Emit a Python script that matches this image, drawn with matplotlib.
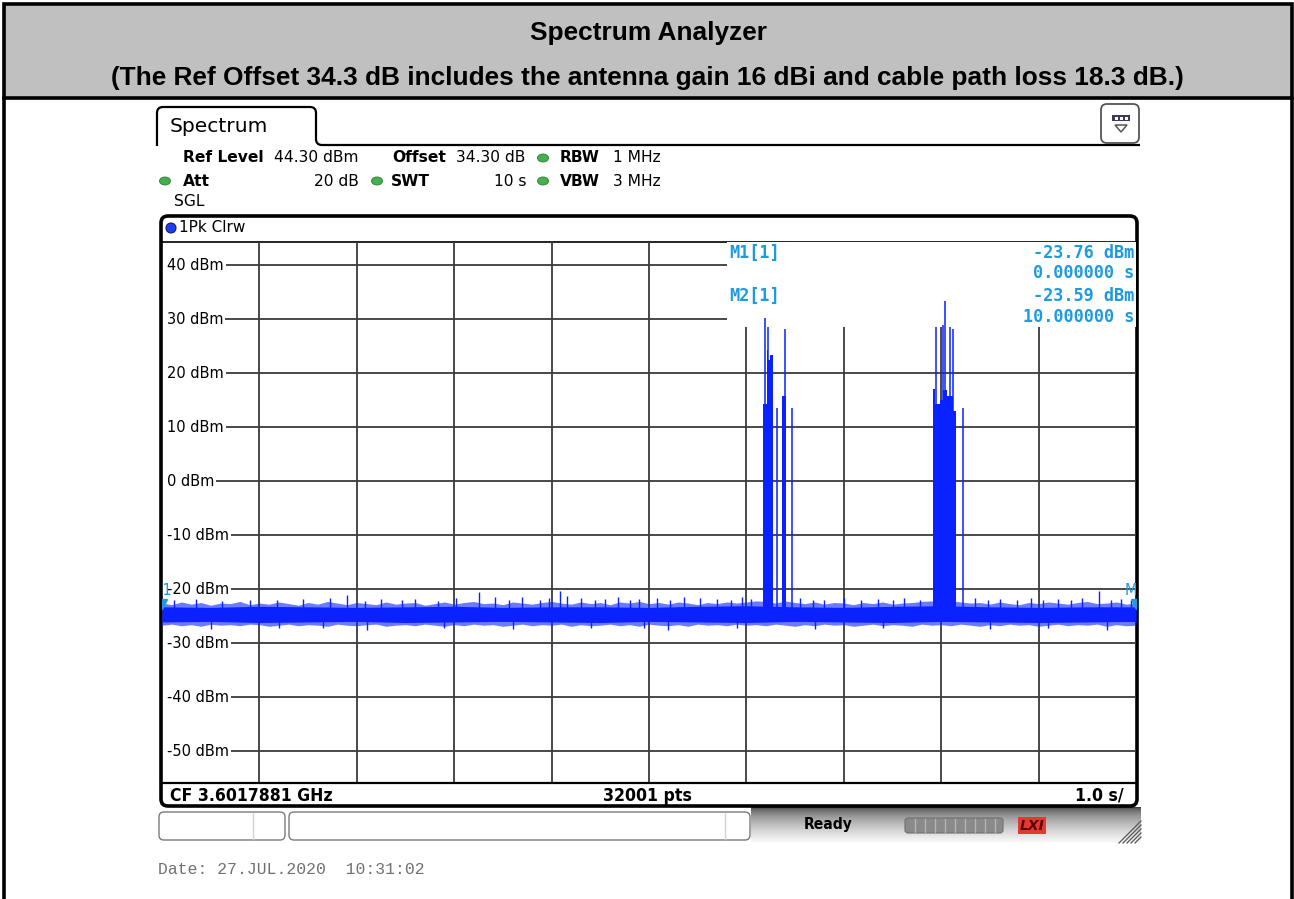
import numpy as np
import matplotlib.pyplot as plt
from matplotlib.patches import Rectangle, FancyBboxPatch, Ellipse, PathPatch, Polygon
from matplotlib.path import Path

# trace data (sweep time in s, level in dBm)
sweep_t = np.linspace(0, 10, 101)
noise_hi = [-22.6, -22.9, -22.4, -22.8, -22.5, -23.0, -22.6, -22.7, -22.3, -22.9,
            -22.6, -22.8, -22.4, -22.7, -23.0, -22.5, -22.8, -22.3, -22.6, -22.9,
            -22.5, -22.7, -22.9, -22.4, -22.8, -22.6, -22.5, -23.0, -22.7, -22.4,
            -22.8, -22.5, -22.3, -22.7, -22.6, -22.9, -22.4, -22.6, -22.8, -22.5,
            -22.3, -22.6, -22.8, -22.4, -22.7, -22.5, -22.9, -22.4, -22.6, -22.3,
            -22.7, -22.5, -22.8, -22.4, -22.6, -22.9, -22.5, -22.7, -22.4, -22.6,
            -22.4, -22.2, -22.3, -22.6, -22.2, -22.5, -22.7, -22.4, -22.8, -22.5,
            -22.6, -22.9, -22.5, -22.7, -22.4, -22.8, -22.6, -22.5, -22.3, -22.2,
            -22.3, -22.2, -22.4, -22.6, -22.5, -22.8, -22.4, -22.7, -22.9, -22.5,
            -22.7, -22.4, -22.6, -22.8, -22.5, -22.3, -22.7, -22.6, -22.4, -22.8,
            -22.6]
noise_lo = [-26.7, -26.5, -26.8, -26.6, -26.9, -26.5, -26.7, -26.6, -26.8, -26.5,
            -26.6, -26.9, -26.7, -26.5, -26.8, -26.6, -26.7, -26.9, -26.5, -26.7,
            -26.8, -26.6, -26.5, -26.9, -26.7, -26.6, -26.8, -26.5, -26.7, -26.9,
            -26.6, -26.8, -26.5, -26.7, -26.6, -26.9, -26.7, -26.5, -26.8, -26.6,
            -26.7, -26.5, -26.9, -26.6, -26.8, -26.7, -26.5, -26.8, -26.6, -26.9,
            -26.5, -26.7, -26.8, -26.6, -26.9, -26.5, -26.7, -26.6, -26.8, -26.5,
            -26.7, -26.6, -26.8, -26.5, -26.7, -26.9, -26.6, -26.8, -26.5, -26.7,
            -26.6, -26.9, -26.7, -26.5, -26.8, -26.6, -26.7, -26.9, -26.5, -26.7,
            -26.6, -26.8, -26.5, -26.7, -26.9, -26.6, -26.8, -26.5, -26.7, -26.6,
            -26.9, -26.7, -26.5, -26.8, -26.6, -26.7, -26.5, -26.9, -26.6, -26.8,
            -26.7]
# dense core of the noise floor
core_t = np.linspace(0, 10, 21)
core_hi = [-23.3, -23.4, -23.2, -23.3, -23.4, -23.3, -23.2, -23.4, -23.3, -23.3, -23.4,
           -23.2, -23.1, -23.3, -23.4, -23.2, -23.1, -23.3, -23.4, -23.3, -23.3]
core_lo = [-26.1, -26.0, -26.2, -26.1, -26.0, -26.2, -26.1, -26.0, -26.1, -26.2, -26.0,
           -26.1, -26.2, -26.0, -26.1, -26.2, -26.0, -26.1, -26.2, -26.1, -26.0]
# isolated noise peaks and dips
peak_t = [0.12, 0.35, 0.62, 0.9, 1.18, 1.45, 1.72, 1.90, 2.08, 2.25, 2.46, 2.6, 2.83,
          3.02, 3.25, 3.42, 3.56, 3.70, 3.88, 3.97, 4.09, 4.16, 4.3, 4.45, 4.55, 4.68,
          4.80, 4.90, 5.08, 5.22, 5.36, 5.52, 5.70, 5.84, 5.95, 6.05, 6.55, 6.68, 6.80,
          7.0, 7.18, 7.35, 7.5, 7.62, 7.78, 8.35, 8.48, 8.6, 8.78, 8.92, 9.05, 9.2,
          9.33, 9.45, 9.62, 9.74, 9.85, 9.95]
peak_v = [-22.1, -21.9, -22.2, -22.0, -22.1, -21.8, -21.7, -21.1, -22.2, -21.9, -22.1,
          -21.8, -22.2, -21.6, -20.6, -21.4, -22.0, -21.5, -22.1, -21.7, -20.4, -21.3,
          -21.7, -22.0, -21.9, -21.5, -22.1, -21.8, -21.6, -22.0, -21.5, -21.7, -21.9,
          -22.1, -21.5, -21.8, -21.6, -22.1, -22.0, -21.6, -22.1, -21.8, -22.0, -21.7,
          -22.1, -21.6, -22.0, -21.8, -22.1, -21.7, -22.0, -21.9, -22.1, -21.6, -20.3,
          -22.0, -21.8, -22.1]
dip_t = [0.5, 1.2, 1.65, 2.1, 2.9, 3.6, 4.4, 4.95, 5.2, 5.9, 6.7, 7.4, 8.5, 9.1, 9.7]
dip_v = [-27.4, -27.3, -27.2, -27.5, -27.3, -27.4, -27.3, -27.2, -27.5, -27.3, -27.4,
         -27.3, -27.4, -27.3, -27.5]
# burst blocks: start, end, top level
burst_t0 = [6.167, 6.210, 6.225, 6.240, 6.362, 7.913, 7.936, 7.987, 8.022, 8.056, 8.124]
burst_t1 = [6.210, 6.225, 6.240, 6.270, 6.403, 7.936, 7.987, 8.022, 8.056, 8.124, 8.152]
burst_top = [14.3, 24.3, 22.4, 23.3, 15.7, 17.0, 14.3, 15.0, 16.9, 15.7, 13.0]
spike_t = [6.191, 6.225, 6.317, 6.393, 6.471, 7.944, 8.022, 8.039, 8.090, 8.124, 8.227]
spike_v = [30.1, 28.6, 13.6, 28.1, 13.6, 28.6, 28.9, 33.3, 28.6, 28.1, 13.6]

levels = [40, 30, 20, 10, 0, -10, -20, -30, -40, -50]
level_labels = ["40 dBm", "30 dBm", "20 dBm", "10 dBm", "0 dBm", "-10 dBm", "-20 dBm",
                "-30 dBm", "-40 dBm", "-50 dBm"]
time_div = [1, 2, 3, 4, 5, 6, 7, 8, 9]

m_t = [0.0, 10.0]
m_v = [-23.76, -23.59]
m_names = ["M1", "M2"]

W, H = 1294, 899
fig = plt.figure(figsize=(W / 100, H / 100), dpi=100)
fig.patch.set_facecolor('white')

bg = fig.add_axes([0, 0, 1, 1])
bg.set_xlim(0, W)
bg.set_ylim(H, 0)
bg.axis('off')

TRACE = '#0a22ff'
MK = '#1e9be0'
SANS = 'DejaVu Sans'


def txt(x, y, s, **kw):
    kw.setdefault('fontfamily', SANS)
    kw.setdefault('fontsize', 11.2)
    kw.setdefault('va', 'center')
    bg.text(x, y, s, **kw)


# outer table + header
bg.add_patch(Rectangle((4, 4), 1288, 94, fc='#c0c0c0', ec='black', lw=2.6))
bg.plot([4, 4], [98, H], color='black', lw=2.6)
bg.plot([1292, 1292], [98, H], color='black', lw=2.6)
txt(649, 33, "Spectrum Analyzer", ha='center', fontfamily='Liberation Sans',
    fontweight='bold', fontsize=18.9)
txt(647, 78, "(The Ref Offset 34.3 dB includes the antenna gain 16 dBi and cable path loss 18.3 dB.)",
    ha='center', fontfamily='Liberation Sans', fontweight='bold', fontsize=18.9)

# tab
verts = [(157, 146), (157, 113), (157, 107), (163, 107), (310, 107), (316, 107), (316, 113),
         (316, 139), (316, 145), (322, 145), (1140, 145)]
codes = [Path.MOVETO, Path.LINETO, Path.CURVE3, Path.CURVE3, Path.LINETO, Path.CURVE3,
         Path.CURVE3, Path.LINETO, Path.CURVE3, Path.CURVE3, Path.LINETO]
bg.add_patch(PathPatch(Path(verts, codes), fc='none', ec='black', lw=1.6))
txt(170, 127, "Spectrum", fontsize=14.6)

# icon top right
bg.add_patch(FancyBboxPatch((1101, 104), 38, 39, boxstyle='round,pad=0,rounding_size=6',
                            fc='white', ec='#555555', lw=1.3))
bg.add_patch(Rectangle((1112, 115), 18, 6, fc='#3a3a5a', ec='none'))
for xx in [1115, 1120, 1125]:
    bg.add_patch(Rectangle((xx, 116.5), 3, 3, fc='white', ec='none'))
bg.add_patch(Polygon([(1115, 125), (1127, 125), (1121, 132)], closed=True, fc='none',
                     ec='#555555', lw=1.1))

# settings lines
def dot(x, y):
    bg.add_patch(Ellipse((x, y), 11, 8, fc='#45b04c', ec='#2e7d32', lw=0.6))


txt(183, 157, "Ref Level", fontweight='bold')
txt(274, 157, "44.30 dBm")
txt(392, 157, "Offset", fontweight='bold')
txt(456, 157, "34.30 dB")
dot(543, 158)
txt(560, 157, "RBW", fontweight='bold')
txt(613, 157, "1 MHz")
dot(165, 181)
txt(183, 181, "Att", fontweight='bold')
txt(359, 181, "20 dB", ha='right')
dot(377, 181)
txt(391, 181, "SWT", fontweight='bold')
txt(527, 181, "10 s", ha='right')
dot(543, 181)
txt(560, 181, "VBW", fontweight='bold')
txt(613, 181, "3 MHz")
txt(174, 201, "SGL")

# diagram frame
bg.add_patch(FancyBboxPatch((161, 216), 976, 590, boxstyle='round,pad=0,rounding_size=7',
                            fc='white', ec='black', lw=2.6))
bg.plot([161, 1137], [241.5, 241.5], color='black', lw=1.2)
bg.plot([161, 1137], [782.5, 782.5], color='black', lw=1.6)
bg.add_patch(Ellipse((171, 228), 10, 10, fc='#1e3cf0', ec='#10206a', lw=0.8))
txt(179, 227, "1Pk Clrw", fontsize=11)

# footer
txt(170, 796, "CF 3.6017881 GHz", fontweight='bold', fontstretch='condensed', fontsize=12.6)
txt(647, 796, "32001 pts", ha='center', fontweight='bold', fontstretch='condensed', fontsize=12.6)
txt(1124, 796, "1.0 s/", ha='right', fontweight='bold', fontstretch='condensed', fontsize=12.6)

# status bar
grad = np.linspace(0.0, 1.0, 60).reshape(-1, 1)
grad = 0.2 + 0.78 * np.sqrt(grad)
bg.imshow(grad, extent=[751, 1141, 843, 807], cmap='gray', vmin=0, vmax=1,
          aspect='auto', zorder=0)
bg.add_patch(FancyBboxPatch((159, 812), 126, 28, boxstyle='round,pad=0,rounding_size=5',
                            fc='white', ec='#7a7a7a', lw=1))
bg.plot([253, 253], [813, 839], color='#d0d0d0', lw=1)
bg.add_patch(FancyBboxPatch((289, 812), 461, 28, boxstyle='round,pad=0,rounding_size=5',
                            fc='white', ec='#7a7a7a', lw=1))
bg.plot([725, 725], [813, 839], color='#d0d0d0', lw=1)
txt(828, 825, "Ready", ha='center', fontweight='bold', fontstretch='condensed', fontsize=11.2)
bg.add_patch(FancyBboxPatch((905, 818), 98, 15, boxstyle='round,pad=0,rounding_size=3',
                            fc='#8a8a8a', ec='#707070', lw=0.8))
for xx in range(915, 1000, 10):
    bg.plot([xx, xx], [819, 832], color='#b4b4b4', lw=1)
bg.add_patch(Rectangle((1018, 817), 28, 17, fc='#e23a32', ec='none'))
txt(1032, 825.5, "LXI", ha='center', fontweight='bold', style='italic', fontsize=10,
    color='#5a0000')
for L in [6, 10, 14, 18, 22]:
    bg.plot([1141 - L, 1141], [843, 843 - L], color='#555555', lw=0.9)

txt(158, 869, "Date: 27.JUL.2020  10:31:02", fontfamily='Liberation Mono', fontsize=11.8,
    color='#707070')

# diagram axes
ax = fig.add_axes([162 / W, (H - 781.8) / H, 974 / W, 540 / H])
ax.set_xlim(0, 10)
ax.set_ylim(-55.7, 44.3)
ax.axis('off')

ax.hlines(levels, 0.015, 10, color='#3a3a3a', lw=1.3, zorder=1)
ax.vlines(time_div, -55.7, 44.3, color='#3a3a3a', lw=1.3, zorder=1)
for lv, lab in zip(levels, level_labels):
    ax.add_patch(Rectangle((0.015, lv - 1.2), 0.07, 2.4, fc='white', ec='none', zorder=2))
    ax.text(0.055, lv, lab, ha='left', va='center', fontfamily=SANS, fontsize=10.5,
            bbox=dict(fc='white', ec='none', pad=1.2), zorder=2)
ax.add_patch(Rectangle((5.8, 28.5), 4.2, 15.8, fc='white', ec='none', zorder=2))

# marker readout
for x, y, s, ha in [(729, 253, "M1[1]", 'left'), (1134, 253, "-23.76 dBm", 'right'),
                    (1134, 273, "0.000000 s", 'right'), (729, 296, "M2[1]", 'left'),
                    (1134, 296, "-23.59 dBm", 'right'), (1134, 317, "10.000000 s", 'right')]:
    ax.text(x, y, s, ha=ha, va='center', transform=bg.transData, clip_on=False,
            fontfamily='DejaVu Sans Mono', fontweight='bold', fontsize=12.2, color=MK, zorder=5)

# trace
ax.fill_between(sweep_t, noise_lo, noise_hi, color=TRACE, alpha=0.6, lw=0, zorder=3)
ax.fill_between(core_t, core_lo, core_hi, color=TRACE, lw=0, zorder=3)
ax.vlines(peak_t, -24.5, peak_v, color=TRACE, lw=1, zorder=3)
ax.vlines(dip_t, dip_v, -25.5, color=TRACE, lw=1, zorder=3)
ax.bar(burst_t0, np.array(burst_top) + 25, width=np.array(burst_t1) - np.array(burst_t0),
       bottom=-25, align='edge', color=TRACE, lw=0, zorder=3)
ax.vlines(spike_t, -25, spike_v, color=TRACE, lw=1.1, zorder=3)

# markers
for t, v, name in zip(m_t, m_v, m_names):
    ax.plot(t, v + 0.9, marker='v', ms=7, color=MK, mec=MK, zorder=4)
    ax.text(t, -20.2, name, ha='center', va='center', fontfamily=SANS, fontsize=10.5,
            color=MK, zorder=4, clip_on=True)

fig.savefig('out.png', dpi=100)
